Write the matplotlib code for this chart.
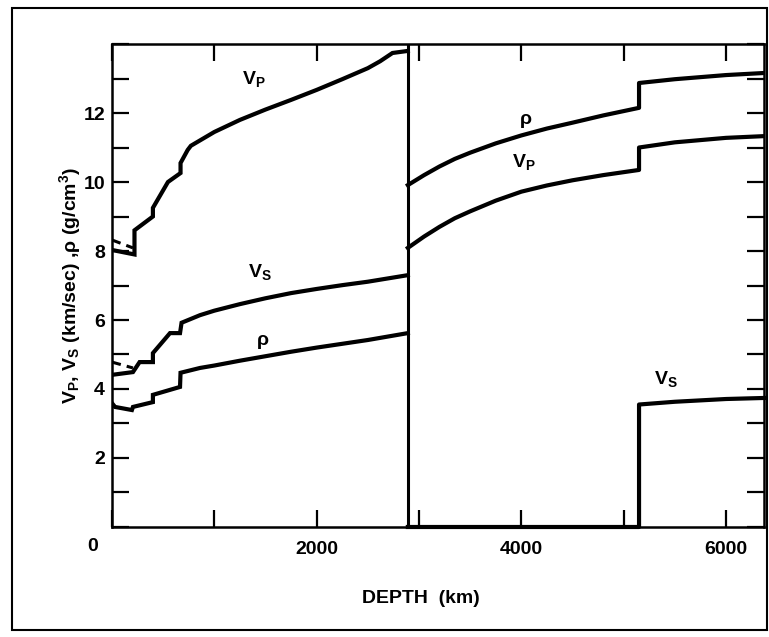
import numpy as np
import matplotlib.pyplot as plt
from matplotlib.patches import Rectangle

plt.rcParams['font.family'] = ['Liberation Sans', 'DejaVu Sans']
plt.rcParams['font.weight'] = 'bold'
plt.rcParams['axes.labelweight'] = 'bold'
plt.rcParams['mathtext.default'] = 'regular'

# mantle, 0 - 2891 km (repeated depth = discontinuity)
mantle_vp_depth = [0, 220, 220, 400, 400, 547, 670, 670, 740, 771, 1000, 1250, 1500, 1750,
                   2000, 2250, 2500, 2620, 2741, 2891]
mantle_vp = [8.03, 7.9, 8.6, 9.0, 9.25, 10.0, 10.26, 10.55, 10.93, 11.05, 11.45, 11.8, 12.1, 12.38,
             12.67, 12.98, 13.3, 13.5, 13.74, 13.8]

mantle_vs_depth = [0, 205, 270, 400, 400, 567, 665, 680, 860, 1000, 1250, 1500, 1750, 2000,
                   2250, 2500, 2891]
mantle_vs = [4.41, 4.49, 4.78, 4.78, 5.04, 5.62, 5.62, 5.92, 6.14, 6.27, 6.46, 6.63, 6.78, 6.9,
             7.01, 7.11, 7.3]

mantle_rho_depth = [0, 30, 195, 205, 400, 400, 665, 670, 860, 1000, 1250, 1500, 1750, 2000,
                    2250, 2500, 2891]
mantle_rho = [3.59, 3.48, 3.39, 3.48, 3.62, 3.83, 4.06, 4.47, 4.61, 4.68, 4.82, 4.95, 5.08, 5.2,
              5.31, 5.42, 5.62]

# dashed alternatives near the surface
dash_depth = [0, 205]
dash_vp = [8.32, 8.09]
dash_vs = [4.78, 4.61]

# outer core 2891 - 5150 km
outer_depth = [2891, 3050, 3200, 3350, 3500, 3750, 4000, 4250, 4500, 4800, 5150]
outer_vp = [8.09, 8.42, 8.7, 8.95, 9.15, 9.46, 9.72, 9.9, 10.05, 10.2, 10.35]
outer_rho = [9.91, 10.2, 10.45, 10.67, 10.85, 11.12, 11.35, 11.55, 11.72, 11.93, 12.15]
outer_vs = [0] * len(outer_depth)

# inner core 5150 - 6371 km
inner_depth = [5150, 5500, 6000, 6371]
inner_vp = [11.0, 11.15, 11.28, 11.33]
inner_rho = [12.87, 12.98, 13.1, 13.16]
inner_vs = [3.55, 3.63, 3.71, 3.74]

cmb_depth = 2891

x_ticks = [0, 1000, 2000, 3000, 4000, 5000, 6000]
x_labels = ['', '', '2000', '', '4000', '', '6000']
y_ticks = list(range(0, 15))
y_labels = [str(v) if v % 2 == 0 and 0 < v < 14 else '' for v in y_ticks]

fig = plt.figure(figsize=(7.69, 6.37), dpi=100)
ax = fig.add_axes([0.1456, 0.1727, 0.8479, 0.7582])

lw = 3.0
ax.plot(mantle_vp_depth, mantle_vp, color='k', lw=lw, solid_joinstyle='miter')
ax.plot(mantle_vs_depth, mantle_vs, color='k', lw=lw, solid_joinstyle='miter')
ax.plot(mantle_rho_depth, mantle_rho, color='k', lw=lw, solid_joinstyle='miter')
ax.plot(dash_depth, dash_vp, color='k', lw=2.2, ls=(0, (3, 2)))
ax.plot(dash_depth, dash_vs, color='k', lw=2.2, ls=(0, (3, 2)))

ax.plot(outer_depth + inner_depth, outer_vp + inner_vp, color='k', lw=lw)
ax.plot(outer_depth + inner_depth, outer_rho + inner_rho, color='k', lw=lw)
ax.plot(outer_depth + inner_depth, outer_vs + inner_vs, color='k', lw=lw, clip_on=False)

ax.axvline(cmb_depth, color='k', lw=2.2)

# curve labels
fs = 14
ax.text(1270, 12.84, 'V$_P$', fontsize=fs, ha='left', va='baseline')
ax.text(1330, 7.25, 'V$_S$', fontsize=fs, ha='left', va='baseline')
ax.text(1417, 5.28, 'ρ', fontsize=fs, ha='left', va='baseline')
ax.text(3990, 11.68, 'ρ', fontsize=fs, ha='left', va='baseline')
ax.text(3910, 10.43, 'V$_P$', fontsize=fs, ha='left', va='baseline')
ax.text(5300, 4.15, 'V$_S$', fontsize=fs, ha='left', va='baseline')

ax.set_xlim(0, 6371)
ax.set_ylim(0, 14)
ax.set_xticks(x_ticks)
ax.set_xticklabels(x_labels)
ax.set_yticks(y_ticks)
ax.set_yticklabels(y_labels)
ax.tick_params(axis='both', direction='in', length=12, width=1.6, top=True, right=True, labelsize=fs)
ax.tick_params(axis='x', pad=10)
ax.tick_params(axis='y', pad=5)
for s in ax.spines.values():
    s.set_linewidth(1.8)

ax.text(-0.029, -0.041, '0', transform=ax.transAxes, ha='center', va='center', fontsize=fs)

ax.set_xlabel('DEPTH  (km)', fontsize=fs)
ax.xaxis.set_label_coords(0.474, -0.131)
ax.set_ylabel('V$_P$, V$_S$ (km/sec) ,ρ (g/cm$^3$)', fontsize=fs, va='center')
ax.yaxis.set_label_coords(-0.065, 0.5)

# outer frame around the whole figure
fig.patches.append(Rectangle((0.0156, 0.011), 0.982, 0.9765, transform=fig.transFigure,
                             fill=False, edgecolor='k', lw=1.5))

fig.savefig('out.png', dpi=100)
